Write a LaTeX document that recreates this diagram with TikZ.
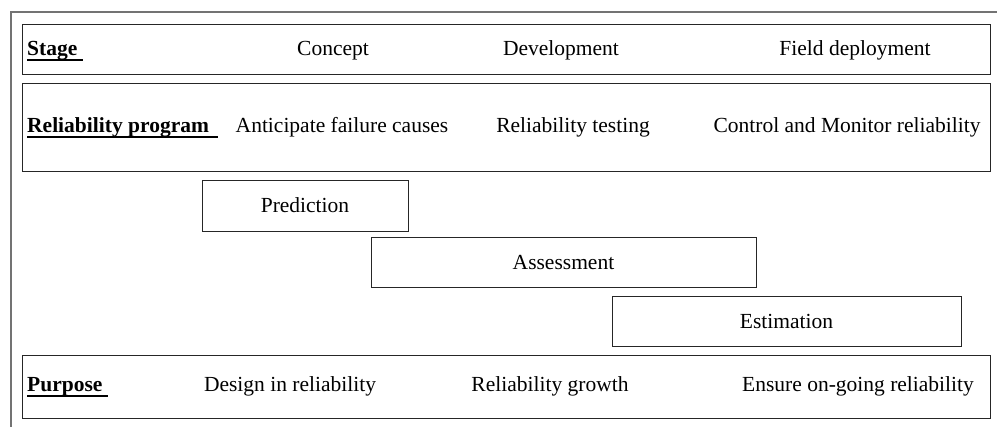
\documentclass[tikz,border=0pt]{standalone}
\usepackage{fontspec}
\setmainfont{Liberation Serif}
\begin{document}
\begin{tikzpicture}[x=1pt,y=-1pt,
  box/.style={draw=black!85,line width=1.1pt},
  frame/.style={draw=black!55,line width=1.3pt},
  txt/.style={inner sep=0pt,anchor=base,font=\fontsize{21.5}{26}\selectfont},
  hdr/.style={inner sep=0pt,anchor=base west,font=\fontsize{21.5}{26}\selectfont\bfseries},
  ul/.style={line width=1.3pt}]
\useasboundingbox (0,0) rectangle (997,427);
% outer frame (partial)
\coordinate (f1) at (11,427);
\coordinate (f2) at (11,12);
\coordinate (f3) at (997,12);
\draw[frame] (f1) -- (f2) -- (f3);
% row boxes
\node[box,minimum width=968pt,minimum height=50pt,anchor=north west,inner sep=0pt] (stagebox) at (22,24) {};
\node[box,minimum width=968pt,minimum height=88pt,anchor=north west,inner sep=0pt] (progbox) at (22,83) {};
\node[box,minimum width=968pt,minimum height=63pt,anchor=north west,inner sep=0pt] (purpbox) at (22,355) {};
% activity boxes
\node[box,minimum width=206pt,minimum height=51pt,anchor=north west,inner sep=0pt] (pred) at (202,180) {};
\node[box,minimum width=385pt,minimum height=50pt,anchor=north west,inner sep=0pt] (assess) at (371,237) {};
\node[box,minimum width=349pt,minimum height=50pt,anchor=north west,inner sep=0pt] (estim) at (612,296) {};
\node[txt] (predt) at (305,213) {Prediction};
\node[txt] (assesst) at (563.5,270) {Assessment};
\node[txt] (estimt) at (786.5,329) {Estimation};
% stage row
\node[hdr] (stage) at (27,56) {Stage\strut};
\draw[ul] ([yshift=-4pt]stage.base west) -- ++(56,0);
\node[txt] (concept) at (333,56) {Concept};
\node[txt] (devel) at (561,56) {Development};
\node[txt] (field) at (855,56) {Field deployment};
% program row
\node[hdr] (prog) at (27,133) {Reliability program};
\draw[ul] ([yshift=-4pt]prog.base west) -- ++(191,0);
\node[txt] (antic) at (342,133) {Anticipate failure causes};
\node[txt] (rtest) at (573,133) {Reliability testing};
\node[txt] (ctrl) at (847,133) {Control and Monitor reliability};
% purpose row
\node[hdr] (purp) at (27,392) {Purpose};
\draw[ul] ([yshift=-4pt]purp.base west) -- ++(81,0);
\node[txt] (design) at (290,392) {Design in reliability};
\node[txt] (growth) at (550,392) {Reliability growth};
\node[txt] (ensure) at (858,392) {Ensure on-going reliability};
\end{tikzpicture}
\end{document}
